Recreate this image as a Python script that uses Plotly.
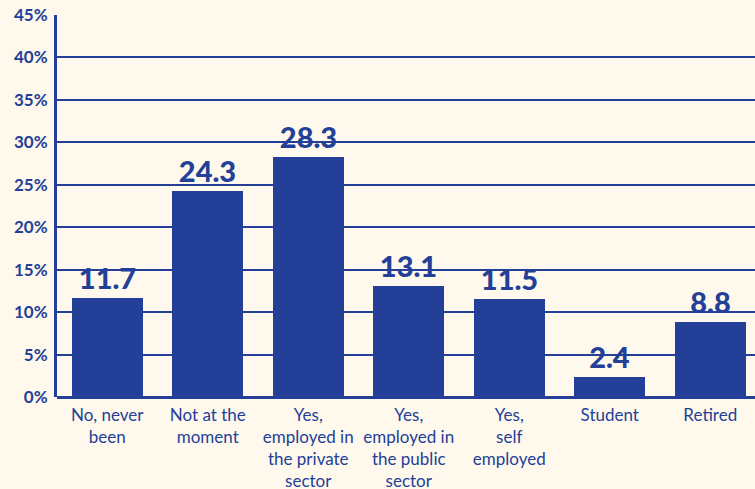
import plotly.graph_objects as go

# Survey categories (line breaks as shown under the axis)
categories = [
    "No, never<br>been",
    "Not at the<br>moment",
    "Yes,<br>employed in<br>the private<br>sector",
    "Yes,<br>employed in<br>the public<br>sector",
    "Yes,<br>self<br>employed",
    "Student",
    "Retired",
]
shares = [11.7, 24.3, 28.3, 13.1, 11.5, 2.4, 8.8]
y_ticks = [0, 5, 10, 15, 20, 25, 30, 35, 40, 45]
y_tick_labels = [f"{v}%" for v in y_ticks]

BLUE = "#233F98"
BG = "#FEF9EC"

fig = go.Figure(
    go.Bar(
        x=list(range(len(categories))),
        y=shares,
        width=0.71,
        marker=dict(color=BLUE, line=dict(width=0)),
        text=[f"{v}" for v in shares],
        textposition="outside",
        textfont=dict(family="Lato", size=29, color=BLUE, weight=900),
        cliponaxis=False,
    )
)

fig.update_layout(
    width=755,
    height=489,
    margin=dict(l=57, r=0, t=15, b=92),
    paper_bgcolor=BG,
    plot_bgcolor=BG,
    showlegend=False,
    bargap=0,
    xaxis=dict(
        range=[-0.5, 6.445],
        tickmode="array",
        tickvals=list(range(len(categories))),
        ticktext=categories,
        tickfont=dict(family="Lato", size=17, color=BLUE),
        showgrid=False,
        showline=False,
        zeroline=False,
        ticks="",
        ticklabelstandoff=6,
        automargin=False,
        fixedrange=True,
    ),
    yaxis=dict(
        range=[0, 45],
        tickmode="array",
        tickvals=y_ticks,
        ticktext=y_tick_labels,
        tickfont=dict(family="Lato", size=17, color=BLUE, weight=700),
        showgrid=True,
        gridcolor=BLUE,
        gridwidth=2,
        zeroline=True,
        zerolinecolor=BLUE,
        zerolinewidth=3,
        showline=True,
        linecolor=BLUE,
        linewidth=3,
        ticks="",
        ticklabelstandoff=3,
        automargin=False,
        fixedrange=True,
    ),
)

fig.write_html("out.html")
